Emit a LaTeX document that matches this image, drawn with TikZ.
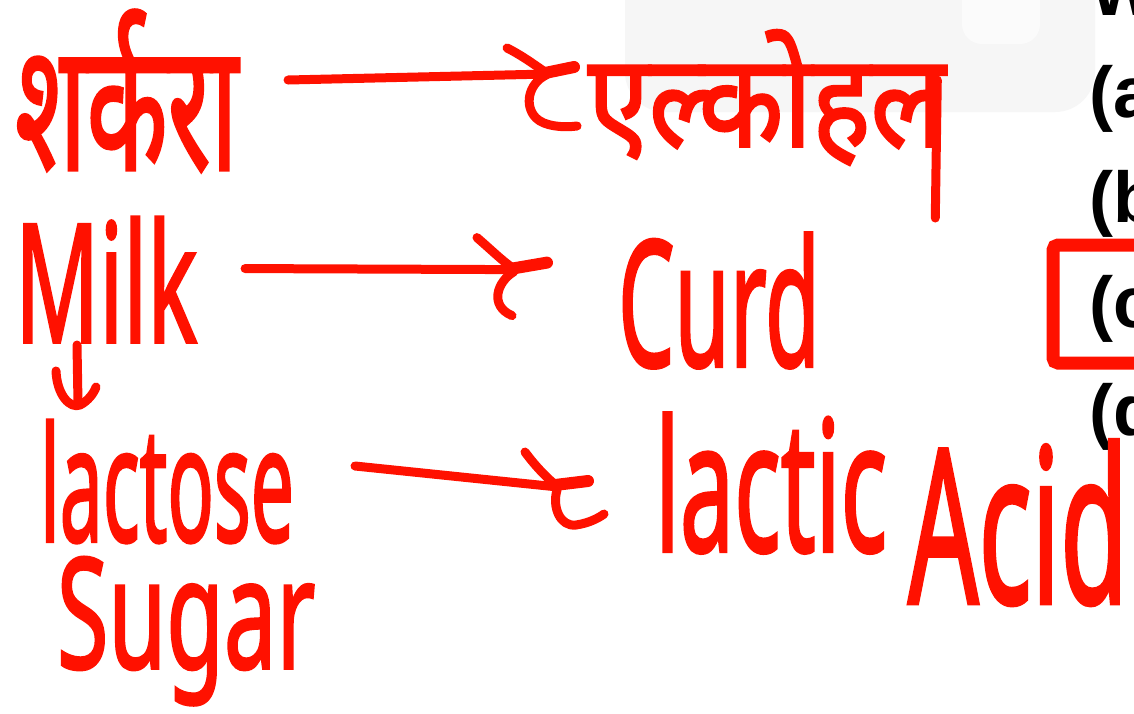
\documentclass[tikz,border=0pt]{standalone}
\usepackage{fontspec}
\usepackage{graphicx}
\setmainfont{Noto Sans}
\newfontfamily\handfont[FakeBold=2]{Noto Sans}
\newfontfamily\devfont[Script=Devanagari,FakeBold=2]{Noto Sans}
\newfontfamily\optfont{Liberation Sans}
\usetikzlibrary{calc}
\definecolor{ink}{RGB}{255,17,0}
\definecolor{logogray}{RGB}{246,246,246}
% scale a handwritten word to a given ink width and total height
\newcommand{\hw}[3]{\resizebox*{#1pt}{#2pt}{\handfont #3}}
\tikzset{
  pen/.style={draw=ink, line width=9pt, line cap=round, line join=round},
  word/.style={anchor=north west, inner sep=0pt, outer sep=0pt, text=ink},
  opt/.style={anchor=base west, inner sep=0pt, font=\optfont\bfseries\fontsize{72}{72}\selectfont}
}
\begin{document}
\begin{tikzpicture}[x=1pt,y=-1pt]
\useasboundingbox (0,0) rectangle (1134,713);
\clip (0,0) rectangle (1134,713);
\fill[white] (0,0) rectangle (1134,713);

% faint logo in the background
\fill[fill=logogray, rounded corners=40pt] (625,-40) rectangle (1095,112);
\fill[fill=white!60!logogray, rounded corners=20pt] (962,-40) rectangle (1040,44);

% answer options on the right
\node[opt] (ow) at (1090,15) {W};
\node[opt] (oa) at (1089,117) {(a};
\node[opt] (ob) at (1089,222) {(b};
\node[opt] (oc) at (1089,327) {(c};
\node[opt] (od) at (1089,435) {(d};
\draw[ink, line width=13pt, rounded corners=5pt] (1053,245) rectangle (1170,363);

% handwritten words
\node[word] (sh) at (15,10)  {\hw{223}{162}{\devfont शर्करा}};
\node[word] (al) at (588,30) {\hw{357}{135}{\devfont एल्कोहल}};
\node[word] (mi) at (15,217) {\hw{182}{125}{Milk}};
\node[word] (cu) at (618,233) {\hw{202}{135}{Curd}};
\node[word] (la) at (40,420) {\hw{254}{123}{lactose}};
\node[word] (su) at (57,557) {\hw{258}{148}{Sugar}};
\node[word] (lc) at (655,413) {\hw{232}{140}{lactic}};
\node[word] (ac) at (908,440) {\hw{220}{165}{Acid}};

% long tail of the last stroke of the Devanagari word
\draw[pen, line width=9pt] ($(al.north east)+(-8,50)$) -- ($(al.north east)+(-10,188)$);

% arrow: sugar -> alcohol
\coordinate (t1) at ($(sh.north east)+(310,64)$);
\draw[pen] ($(sh.north east)+(50,70)$) -- (t1);
\draw[pen] ($(t1)+(-41,-26)$) .. controls ($(t1)+(-25,-18)$) and ($(t1)+(-12,-8)$) .. (t1);
\draw[pen, line width=12pt] ($(t1)+(-3,-1)$) -- ($(t1)+(26,-7)$);
\draw[pen] ($(t1)+(-2,1)$) .. controls ($(t1)+(-20,10)$) and ($(t1)+(-24,32)$) .. ($(t1)+(-12,44)$)
           .. controls ($(t1)+(-4,52)$) and ($(t1)+(14,54)$) .. ($(t1)+(29,52)$);

% arrow: milk -> curd
\coordinate (t2) at ($(cu.west)+(-103,-31)$);
\draw[pen] ($(mi.east)+(48,-11)$) -- (t2);
\draw[pen] ($(t2)+(-38,-32)$) .. controls ($(t2)+(-24,-20)$) and ($(t2)+(-12,-8)$) .. (t2);
\draw[pen, line width=12pt] ($(t2)+(-3,-1)$) -- ($(t2)+(32,-7)$);
\draw[pen] ($(t2)+(-1,2)$) .. controls ($(t2)+(-18,12)$) and ($(t2)+(-26,36)$) .. ($(t2)+(-3,46)$);

% arrow: lactose -> lactic acid
\coordinate (t3) at ($(lc.north west)+(-97,74)$);
\draw[pen] ($(la.north east)+(61,46)$) -- (t3);
\draw[pen] ($(t3)+(-33,-35)$) .. controls ($(t3)+(-22,-20)$) and ($(t3)+(-10,-8)$) .. (t3);
\draw[pen, line width=12pt] ($(t3)+(-3,-2)$) -- ($(t3)+(30,-6)$);
\draw[pen] ($(t3)+(-1,3)$) .. controls ($(t3)+(-6,20)$) and ($(t3)+(2,40)$) .. ($(t3)+(18,38)$)
           .. controls ($(t3)+(32,36)$) and ($(t3)+(42,30)$) .. ($(t3)+(46,27)$);

% arrow: milk -> lactose
\coordinate (t4) at ($(mi.north west)+(63,186)$);
\draw[pen] ($(mi.north west)+(62,128)$) -- (t4);
\draw[pen] ($(t4)+(-22,-32)$) .. controls ($(t4)+(-21,-8)$) and ($(t4)+(-8,6)$) .. ($(t4)+(2,2)$)
           .. controls ($(t4)+(10,-2)$) and ($(t4)+(16,-10)$) .. ($(t4)+(18,-16)$);
\end{tikzpicture}
\end{document}
